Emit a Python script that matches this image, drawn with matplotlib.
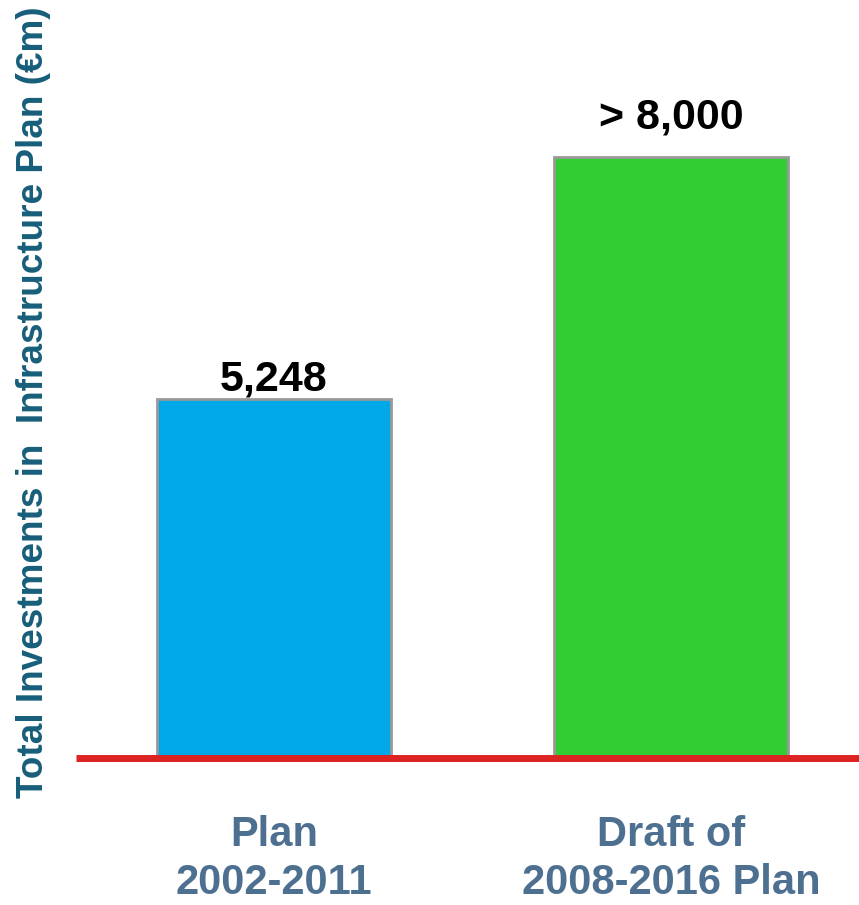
import matplotlib
matplotlib.use("Agg")
from matplotlib import pyplot as plt

plt.rcParams['font.family'] = ['Liberation Sans', 'DejaVu Sans']

categories = ["Plan\n2002-2011", "Draft of\n2008-2016 Plan"]
values = [5248, 8786]          # drawn bar heights (EUR m)
value_labels = ["5,248", "> 8,000"]
bar_colors = ["#00A8E8", "#33CC33"]

fig = plt.figure(figsize=(8.59, 9.05), dpi=100)
ax = fig.add_axes([76/859, (905-758)/905, 783/859, 698/905])

x = range(len(categories))
bars = ax.bar(x, values, width=0.589, color=bar_colors, edgecolor="#999999", linewidth=2, zorder=2)
ax.axhline(0, color="#DD2222", linewidth=5, zorder=3, clip_on=False, solid_capstyle="butt")

# gap between bar top and label baseline, in data units
label_pad = [130, 420]
for b, lab, pad in zip(bars, value_labels, label_pad):
    ax.text(b.get_x() + b.get_width()/2, b.get_height() + pad, lab,
            ha="center", va="baseline", fontsize=31, fontweight="bold", color="black")

ax.set_xlim(-0.498, 1.472)
ax.set_ylim(0, 10204)
ax.set_xticks(list(x))
ax.set_xticklabels(categories, fontsize=30, fontweight="bold", color="#4E7090", linespacing=1.27)
ax.tick_params(axis="x", length=0, pad=41)
ax.set_yticks([])
for s in ax.spines.values():
    s.set_visible(False)

fig.text(34/859, 1 - 402/905, "Total Investments in  Infrastructure Plan (€m)", rotation=90,
         ha="center", va="center", fontsize=26.6, fontweight="bold", color="#175E7A")

plt.savefig("out.png", dpi=100)
